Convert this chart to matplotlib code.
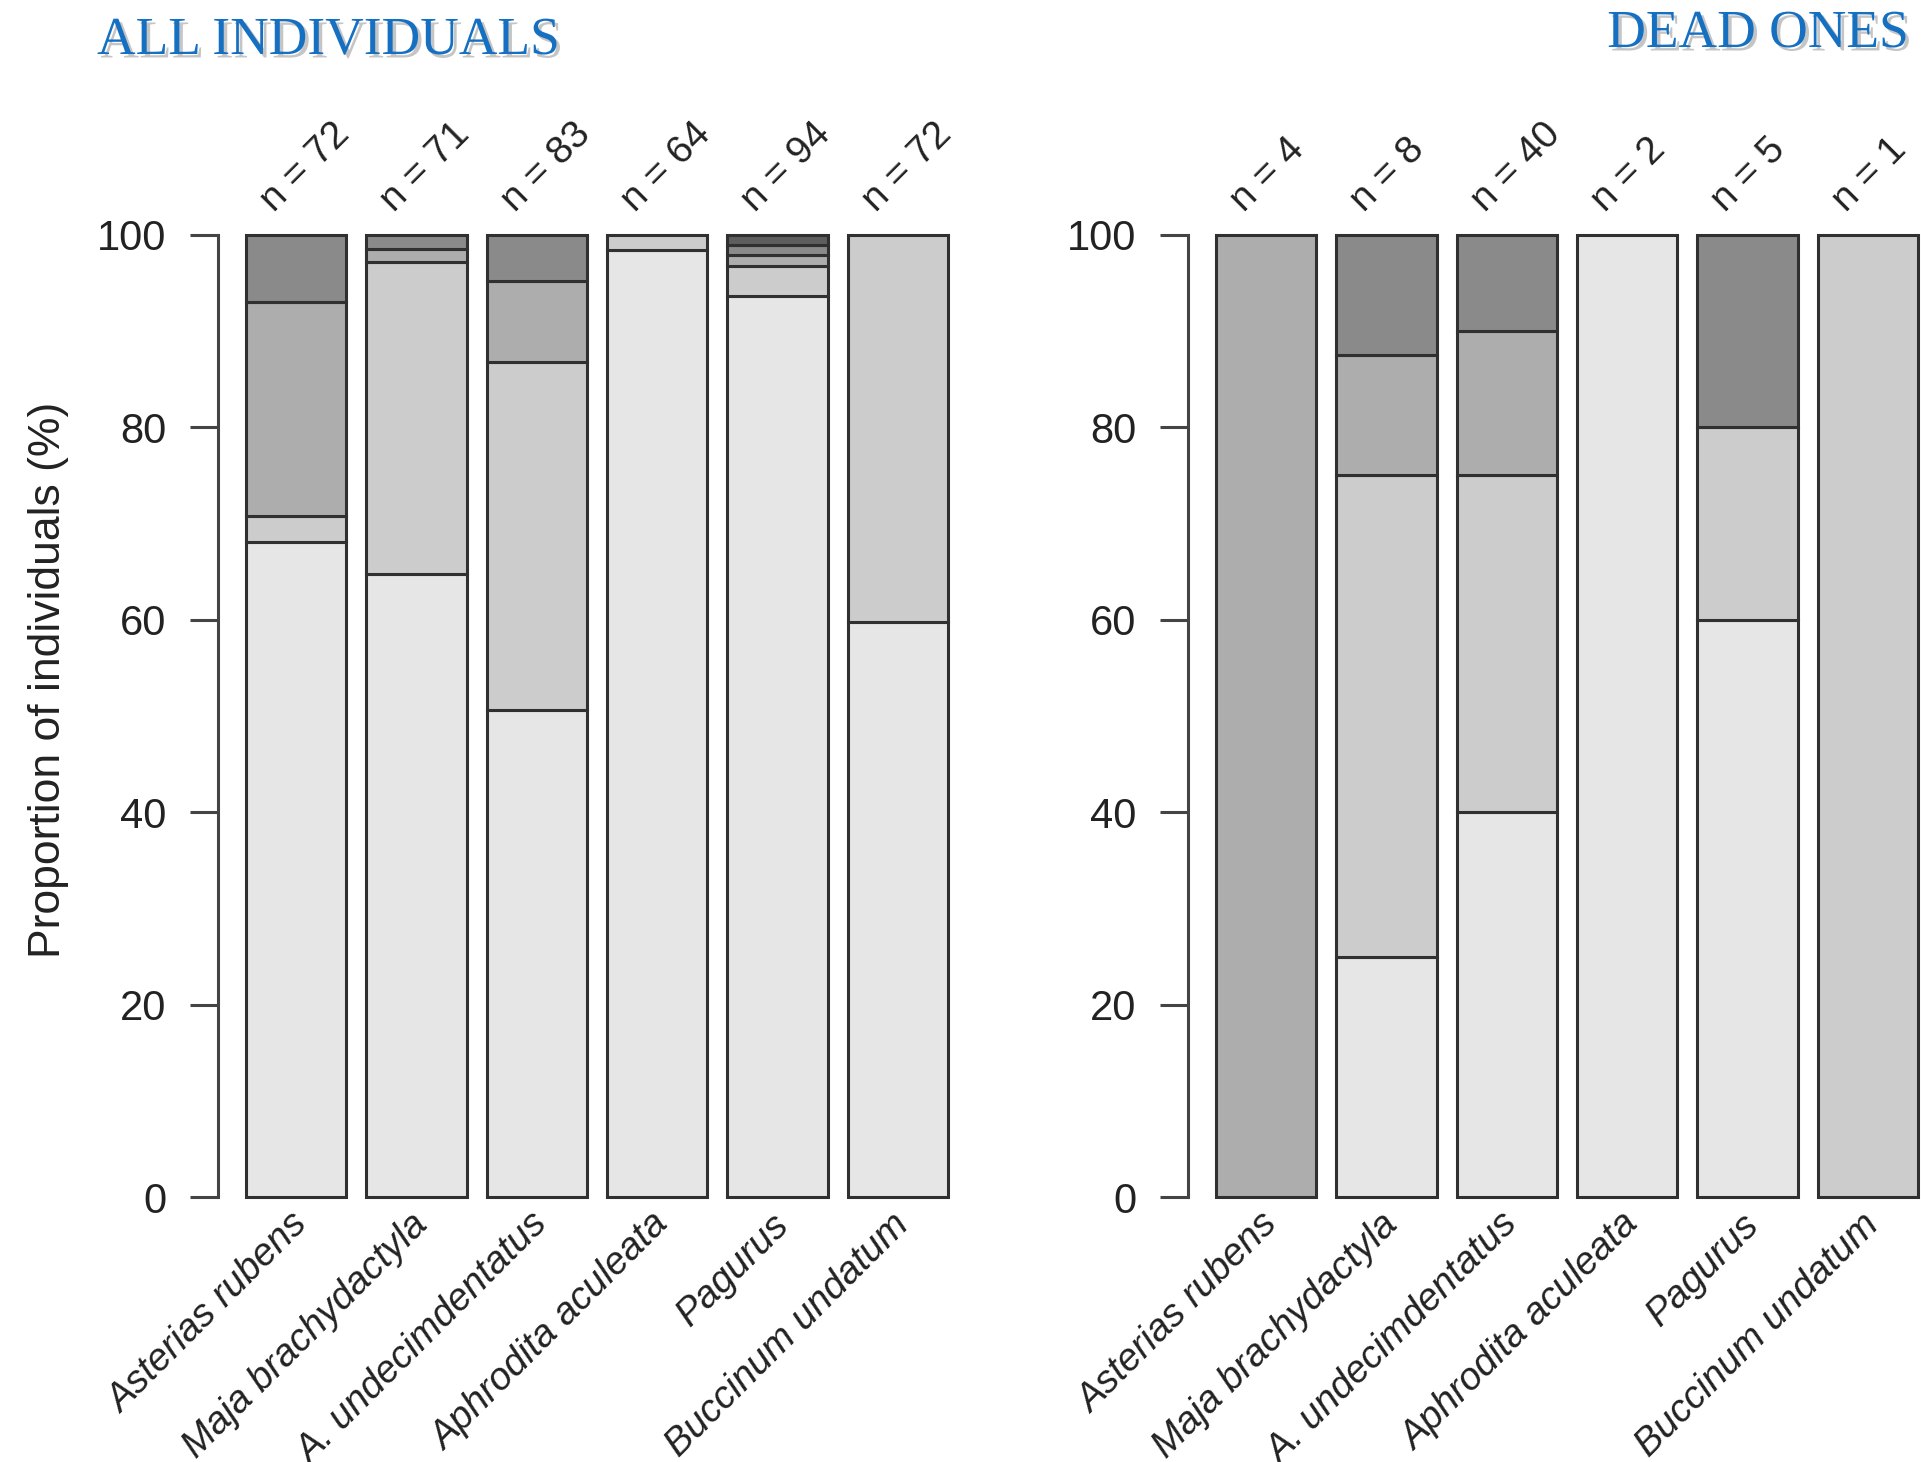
import numpy as np
import matplotlib.pyplot as plt
import matplotlib.patheffects as pe

# species on the x axis (same order in both panels)
species = ['Asterias rubens', 'Maja brachydactyla', 'A. undecimdentatus',
           'Aphrodita aculeata', 'Pagurus', 'Buccinum undatum']

# counts per damage class (class 0 at the bottom, lightest grey)
all_counts = [
    [49, 2, 16, 5, 0],
    [46, 23, 1, 1, 0],
    [42, 30, 7, 4, 0],
    [63, 1, 0, 0, 0],
    [88, 3, 1, 1, 1],
    [43, 29, 0, 0, 0],
]
dead_counts = [
    [0, 0, 4, 0, 0],
    [2, 4, 1, 1, 0],
    [16, 14, 6, 4, 0],
    [2, 0, 0, 0, 0],
    [3, 1, 0, 1, 0],
    [0, 1, 0, 0, 0],
]
class_cols = ['#E6E6E6', '#CCCCCC', '#ADADAD', '#8A8A8A', '#5E5E5E']

plt.rcParams['font.family'] = ['Liberation Sans', 'DejaVu Sans']

W, H = 1921, 1462
fig = plt.figure(figsize=(W / 100, H / 100), dpi=100)


def stacked(ax, counts):
    counts = np.array(counts, dtype=float)
    n = counts.sum(axis=1)
    pct = 100 * counts / n[:, None]
    x = 0.7 + 1.2 * np.arange(len(counts))
    for i in range(len(counts)):
        bottom = 0
        for k in range(pct.shape[1]):
            h = pct[i, k]
            if h <= 0:
                continue
            ax.bar(x[i], h, width=1, bottom=bottom, color=class_cols[k],
                   edgecolor='#303030', linewidth=2.2, zorder=2)
            bottom += h
        ax.text(x[i] - 0.22, 102.3, 'n = %d' % n[i], rotation=45,
                rotation_mode='anchor', ha='left', va='baseline',
                fontsize=28, color='#222222')
        ax.text(x[i] + 0.06, -2.3, species[i], rotation=45,
                rotation_mode='anchor', ha='right', va='center',
                fontsize=27.5, style='italic', color='#222222')
    ax.set_xlim(-0.08, 7.48)
    ax.set_ylim(-4, 104)
    for s in ['top', 'right', 'bottom']:
        ax.spines[s].set_visible(False)
    ax.spines['left'].set_bounds(0, 100)
    ax.spines['left'].set_linewidth(2.2)
    ax.spines['left'].set_color('#444444')
    ax.set_xticks([])
    ax.set_yticks(np.arange(0, 101, 20))
    ax.tick_params(axis='y', length=20, width=2.2, color='#444444',
                   pad=17, labelsize=30, labelcolor='#222222')


ax1 = fig.add_axes([218 / W, 1 - 1235.5 / H, 758 / W, 1039 / H])
stacked(ax1, all_counts)
ax2 = fig.add_axes([1188 / W, 1 - 1235.5 / H, 758 / W, 1039 / H])
stacked(ax2, dead_counts)

fig.text(49 / W, 1 - 680 / H, 'Proportion of individuals (%)', rotation=90,
         ha='center', va='center', fontsize=32, color='#222222')

shadow = [pe.withSimplePatchShadow(offset=(2.5, -2.5), shadow_rgbFace='#808080', alpha=0.45)]
fig.text(97 / W, 1 - 54 / H, 'ALL INDIVIDUALS', family='Liberation Serif',
         fontsize=38.5, color='#1670C2', ha='left', va='baseline', path_effects=shadow)
fig.text(1909 / W, 1 - 47 / H, 'DEAD ONES', family='Liberation Serif',
         fontsize=38.5, color='#1670C2', ha='right', va='baseline', path_effects=shadow)

fig.savefig('out.png', dpi=100)
